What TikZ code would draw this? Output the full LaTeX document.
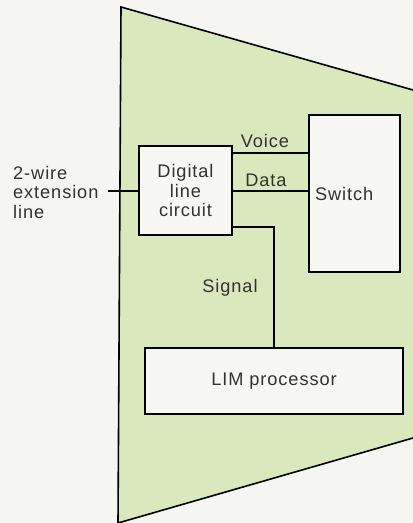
\documentclass[tikz,border=0pt]{standalone}
\usepackage{fontspec}
\setmainfont{Liberation Sans}[LetterSpace=5]
\usepackage{tikz}
\usetikzlibrary{positioning,calc}
\definecolor{panel}{RGB}{218,232,190}
\definecolor{paper}{RGB}{245,245,241}
\definecolor{boxfill}{RGB}{247,247,244}
\definecolor{ink}{RGB}{50,50,50}
\tikzset{
  blk/.style={draw=black,line width=1.9pt,fill=boxfill,text=ink,align=center,inner sep=0pt},
  lbl/.style={text=ink,inner sep=0pt},
  wire/.style={line width=2pt}
}

\begin{document}
\begin{tikzpicture}[x=1pt,y=-1pt,font=\fontsize{18.2}{19.5}\selectfont]
\useasboundingbox (0,0) rectangle (413,523);
\fill[paper] (0,0) rectangle (413,523);
% line interface module outline
\fill[panel] (121,7) -- (413,90) -- (413,438) -- (118,523) -- cycle;
\draw[line width=1.6pt] (413,90) -- (121,7) -- (118,523) -- (413,438);
% blocks
\node[blk,minimum width=93,minimum height=89] (dlc) at (185.5,190.5) {Digital\\line\\circuit};
\node[blk,minimum width=91,minimum height=157,text width=79,align=left,inner xsep=6pt] (switch) at (354.5,193.5) {Switch};
\node[blk,minimum width=258,minimum height=66] (lim) at (274,381) {LIM processor};
% extension line
\node[lbl,align=left,anchor=west] (ext) at (13,192) {2-wire\\extension\\line};
\coordinate (extend) at (108,191);
\draw[wire] (extend) -- (dlc.west |- extend);
% paths to switch and processor
\coordinate (vo) at ([yshift=-8pt]dlc.north east);
\coordinate (sg) at ([yshift=9pt]dlc.south east);
\draw[wire] (vo) -- (switch.west |- vo);
\draw[wire] (dlc.east) -- (switch.west |- dlc.east);
\draw[wire] (sg) -| (lim.north);
\node[lbl] (voice) at (265,141) {Voice};
\node[lbl] (data) at (266,180) {Data};
\node[lbl] (signal) at (230,288) {Signal};
\end{tikzpicture}
\end{document}
